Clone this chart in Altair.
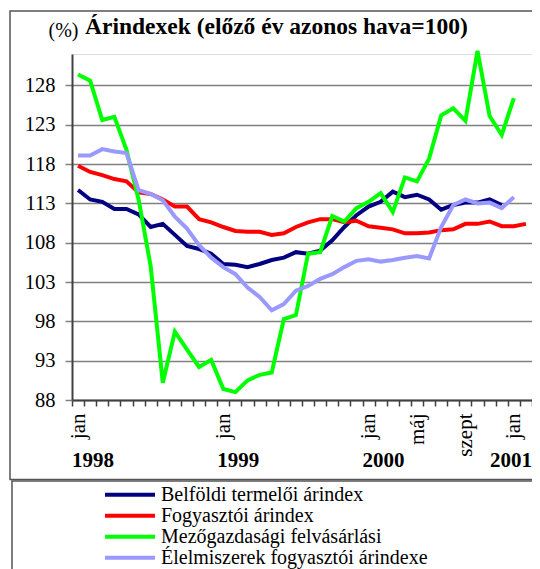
import altair as alt
import pandas as pd

# ---- categories -------------------------------------------------------
months = [
    "1998-01", "1998-02", "1998-03", "1998-04", "1998-05", "1998-06",
    "1998-07", "1998-08", "1998-09", "1998-10", "1998-11", "1998-12",
    "1999-01", "1999-02", "1999-03", "1999-04", "1999-05", "1999-06",
    "1999-07", "1999-08", "1999-09", "1999-10", "1999-11", "1999-12",
    "2000-01", "2000-02", "2000-03", "2000-04", "2000-05", "2000-06",
    "2000-07", "2000-08", "2000-09", "2000-10", "2000-11", "2000-12",
    "2001-01", "2001-02",
]
tick_months = ["1998-01", "1999-01", "2000-01", "2000-05", "2000-09", "2001-01"]
tick_texts = ["jan", "jan", "jan", "máj", "szept", "jan"]
year_months = ["1998-01", "1999-01", "2000-01"]
year_texts = ["1998", "1999", "2000"]
last_year_month = ["2001-02"]   # last year label is right-aligned at the end of the axis
last_year_text = ["2001"]

series_names = [
    "Belföldi termelői árindex",
    "Fogyasztói árindex",
    "Mezőgazdasági felvásárlási",
    "Élelmiszerek fogyasztói árindexe",
]
series_colors = ["#000080", "#FF0000", "#00FF00", "#9999FF"]

y_ticks = [88, 93, 98, 103, 108, 113, 118, 123, 128]

# ---- series values -----------------------------------------------------
producer = [114.7, 113.5, 113.2, 112.3, 112.3, 111.6, 110.0, 110.4, 109.0, 107.6, 107.2, 106.6,
            105.3, 105.2, 104.9, 105.3, 105.8, 106.1, 106.8, 106.6, 107.0, 108.3, 110.0, 111.5,
            112.6, 113.2, 114.5, 113.8, 114.1, 113.5, 112.2, 112.8, 113.1, 113.1, 113.5, 112.8]
consumer = [117.8, 117.0, 116.6, 116.1, 115.8, 114.4, 114.2, 113.5, 112.6, 112.6, 111.0, 110.6,
            110.0, 109.5, 109.4, 109.4, 109.0, 109.2, 110.0, 110.6, 111.0, 111.0, 110.6, 110.8,
            110.1, 109.9, 109.7, 109.2, 109.2, 109.3, 109.6, 109.7, 110.4, 110.4, 110.7, 110.1,
            110.1, 110.4]
agri = [129.4, 128.6, 123.6, 124.0, 119.8, 113.5, 105.0, 90.2, 96.7, 94.4, 92.2, 93.1,
        89.4, 89.0, 90.5, 91.2, 91.5, 98.3, 98.8, 106.6, 106.8, 111.4, 110.7, 112.4,
        113.2, 114.3, 111.9, 116.3, 115.8, 118.7, 124.2, 125.1, 123.5, 132.4, 124.1, 121.7,
        126.4]
food = [119.1, 119.1, 119.9, 119.6, 119.4, 114.7, 114.2, 113.4, 111.3, 109.8, 107.7, 106.1,
        104.9, 104.0, 102.3, 101.1, 99.4, 100.2, 101.9, 102.5, 103.4, 104.0, 104.9, 105.7,
        105.9, 105.6, 105.8, 106.1, 106.3, 106.0, 110.0, 112.8, 113.5, 113.0, 113.1, 112.4,
        113.8]

rows = []
for name, vals in zip(series_names, [producer, consumer, agri, food]):
    for m, v in zip(months, vals):
        rows.append({"month": m, "series": name, "value": v})
df = pd.DataFrame(rows)
years_df = pd.DataFrame({"month": year_months, "year": year_texts})
last_year_df = pd.DataFrame({"month": last_year_month, "year": last_year_text})
frame_df = pd.DataFrame({"k": [0]})

expr = "''"
for m, t in reversed(list(zip(tick_months, tick_texts))):
    expr = f"datum.value === '{m}' ? '{t}' : ({expr})"

W, H = 460, 346
FONT = "Liberation Serif"

x_scale = alt.Scale(type="band", domain=months, paddingInner=0, paddingOuter=0)
y_scale = alt.Scale(domain=[88, 132], nice=False, zero=False)

x_axis = alt.Axis(
    title=None, labelExpr=expr, labelAngle=270, labelFont=FONT, labelFontSize=21,
    labelColor="black", labelPadding=7, labelOverlap=False, tickSize=6,
    tickColor="#404040", tickWidth=1.5, tickBand="extent", domainColor="#404040",
    domainWidth=2, grid=False,
)
y_axis = alt.Axis(
    values=y_ticks, title="(%)", titleAngle=0, titleX=-24, titleY=-17.5,
    titleAlign="left", titleBaseline="alphabetic", titleFont=FONT, titleFontSize=20,
    titleFontWeight="normal", titleColor="black", labelFont=FONT, labelFontSize=20.5,
    labelColor="black", labelPadding=10, tickSize=7, tickColor="#808080", tickWidth=1.5,
    domainColor="#404040", domainWidth=2, grid=True, gridColor="#808080", gridWidth=1.5,
)

lines = alt.Chart(df).mark_line(strokeWidth=4, clip=False).encode(
    x=alt.X("month:O", scale=x_scale, axis=x_axis, bandPosition=0.5),
    y=alt.Y("value:Q", scale=y_scale, axis=y_axis),
    color=alt.Color(
        "series:N",
        scale=alt.Scale(domain=series_names, range=series_colors),
        legend=alt.Legend(
            title=None, orient="none", legendX=31, legendY=431, symbolType="stroke",
            symbolSize=2500, symbolStrokeWidth=4, labelFont=FONT, labelFontSize=20,
            labelColor="black", labelOffset=4, rowPadding=0, padding=0, labelLimit=400,
            clipHeight=19.7,
        ),
    ),
)

years = alt.Chart(years_df).mark_text(
    align="left", baseline="alphabetic", font=FONT, fontSize=21, fontWeight="bold",
    color="black", clip=False,
).encode(
    x=alt.X("month:O", scale=x_scale, axis=x_axis, bandPosition=0),
    y=alt.value(413),
    text="year:N",
)
last_year = alt.Chart(last_year_df).mark_text(
    align="right", baseline="alphabetic", font=FONT, fontSize=21, fontWeight="bold",
    color="black", clip=False,
).encode(
    x=alt.X("month:O", scale=x_scale, axis=x_axis, bandPosition=1),
    y=alt.value(413),
    text="year:N",
)

outer_frame = alt.Chart(frame_df).mark_rect(
    filled=False, stroke="#555555", strokeWidth=1.5, clip=False
).encode(
    x=alt.value(-62), x2=alt.value(W + 30), y=alt.value(-43), y2=alt.value(425.5)
)
legend_frame = alt.Chart(frame_df).mark_rect(
    filled=False, stroke="#555555", strokeWidth=1.5, clip=False
).encode(
    x=alt.value(-60), x2=alt.value(W + 30), y=alt.value(427), y2=alt.value(H + 200)
)

chart = alt.layer(outer_frame, legend_frame, lines, years, last_year).properties(
    width=W,
    height=H,
    autosize=alt.AutoSizeParams(type="none"),
    padding={"left": 64, "top": 46, "right": 0, "bottom": 169},
    title=alt.Title(
        "Árindexek (előző év azonos hava=100)", anchor="start", frame="group",
        font=FONT, fontSize=23.5, fontWeight="bold", color="black", offset=0,
        dx=13, dy=47, baseline="alphabetic",
    ),
).configure_view(
    fill="#FFFFCC", stroke="#808080", strokeWidth=2
).configure(background="white")

chart.save("out.html", embed_options={"renderer": "svg", "actions": False})
